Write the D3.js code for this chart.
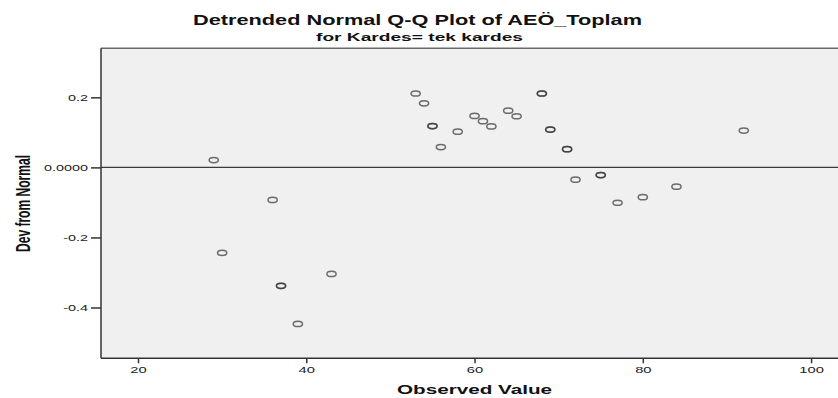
<!DOCTYPE html>
<html>
<head>
<meta charset="utf-8">
<script src="https://cdn.jsdelivr.net/npm/d3@7"></script>
<style>
  body { margin: 0; background: #fff; }
  text { font-family: "Liberation Sans", Arial, sans-serif; }
</style>
</head>
<body>
<div class="chart"></div>
<script>
var svgWidth = 838;
var svgHeight = 398;

// observed values (duplicates listed twice, they print darker)
var observed = [29, 30, 36, 37, 37, 39, 43, 53, 54, 55, 55, 56, 58, 60, 61, 62, 64, 65,
  68, 68, 69, 69, 71, 71, 72, 75, 75, 77, 80, 84, 92];
// deviation from normal for each observed value
var deviation = [0.021, -0.244, -0.093, -0.338, -0.338, -0.447, -0.304, 0.211, 0.183, 0.118, 0.118,
  0.058, 0.102, 0.147, 0.132, 0.117, 0.162, 0.146, 0.211, 0.211, 0.108, 0.108, 0.052, 0.052,
  -0.035, -0.022, -0.022, -0.101, -0.085, -0.055, 0.105];

var xTicks = [20, 40, 60, 80, 100];
var yTicks = [-0.4, -0.2, 0, 0.2];
var yTickLabels = ["-0.4", "-0.2", "0.0000", "0.2"];

var plot = { left: 101, right: 838, top: 48.3, bottom: 358.3 };

var svg = d3.select(".chart")
  .append("svg")
  .attr("width", svgWidth)
  .attr("height", svgHeight);

var x = d3.scaleLinear()
  .domain([15.6, 103.2])
  .range([plot.left, plot.right]);

var y = d3.scaleLinear()
  .domain([-0.545, 0.34])
  .range([plot.bottom, plot.top]);

// the picture is stretched sideways, so text gets widened
function stretch(sel, k) {
  sel.each(function() {
    var w = this.getComputedTextLength();
    d3.select(this)
      .attr("textLength", w * k)
      .attr("lengthAdjust", "spacingAndGlyphs");
  });
}

// plot background
svg.append("rect")
  .attr("x", plot.left)
  .attr("y", plot.top)
  .attr("width", plot.right - plot.left)
  .attr("height", plot.bottom - plot.top)
  .attr("fill", "#f0f0f0");

svg.append("line")
  .attr("x1", plot.left).attr("x2", plot.right)
  .attr("y1", plot.top).attr("y2", plot.top)
  .attr("stroke", "#6a6a6a")
  .attr("stroke-width", 1.5);

// zero line
svg.append("line")
  .attr("x1", plot.left).attr("x2", plot.right)
  .attr("y1", y(0)).attr("y2", y(0))
  .attr("stroke", "#3a3a3a")
  .attr("stroke-width", 1.4);

// axes
var leftAxis = d3.axisLeft(y)
  .tickValues(yTicks)
  .tickSize(10)
  .tickPadding(3)
  .tickFormat((d, i) => yTickLabels[i]);

var yAxis = svg.append("g")
  .attr("transform", `translate(${plot.left}, 0)`)
  .call(leftAxis);

var bottomAxis = d3.axisBottom(x)
  .tickValues(xTicks)
  .tickSize(5)
  .tickPadding(3)
  .tickFormat(d3.format("d"));

var xAxis = svg.append("g")
  .attr("transform", `translate(0, ${plot.bottom})`)
  .call(bottomAxis);

[xAxis, yAxis].forEach(function(ax) {
  ax.select(".domain").attr("stroke", "#333").attr("stroke-width", 1.5);
  ax.selectAll(".tick line").attr("stroke", "#333").attr("stroke-width", 1.5);
  ax.selectAll(".tick text")
    .attr("fill", "#222")
    .attr("font-family", "Liberation Sans, Arial, sans-serif");
});
yAxis.select(".domain").attr("d", `M0,${plot.top}V${plot.bottom}`);
xAxis.select(".domain").attr("d", `M${plot.left},0H${plot.right}`);

yAxis.selectAll(".tick text").attr("font-size", 9).attr("dy", "0.34em").call(stretch, 1.6);
xAxis.selectAll(".tick text").attr("font-size", 9.5).call(stretch, 1.55);

// points
svg.append("g")
  .selectAll("ellipse")
  .data(observed)
  .enter()
  .append("ellipse")
  .attr("cx", d => x(d))
  .attr("cy", (d, i) => y(deviation[i]))
  .attr("rx", 4.6)
  .attr("ry", 2.6)
  .attr("fill", "none")
  .attr("stroke", "#333")
  .attr("stroke-opacity", 0.7)
  .attr("stroke-width", 1.5);

// titles
svg.append("text")
  .attr("x", 193)
  .attr("y", 25)
  .attr("font-size", 15)
  .attr("font-weight", "bold")
  .attr("fill", "#111")
  .attr("textLength", 449)
  .attr("lengthAdjust", "spacingAndGlyphs")
  .text("Detrended Normal Q-Q Plot of AEÖ_Toplam");

svg.append("text")
  .attr("x", 316)
  .attr("y", 41)
  .attr("font-size", 11)
  .attr("font-weight", "bold")
  .attr("fill", "#111")
  .attr("textLength", 207)
  .attr("lengthAdjust", "spacingAndGlyphs")
  .text("for Kardes= tek kardes");

svg.append("text")
  .attr("x", 397)
  .attr("y", 394)
  .attr("font-size", 13.5)
  .attr("font-weight", "bold")
  .attr("fill", "#111")
  .attr("textLength", 155)
  .attr("lengthAdjust", "spacingAndGlyphs")
  .text("Observed Value");

svg.append("text")
  .attr("transform", "translate(29.5, 203.5) rotate(-90)")
  .attr("text-anchor", "middle")
  .attr("font-size", 20)
  .attr("font-weight", "bold")
  .attr("fill", "#111")
  .attr("textLength", 97)
  .attr("lengthAdjust", "spacingAndGlyphs")
  .text("Dev from Normal");
</script>
</body>
</html>
